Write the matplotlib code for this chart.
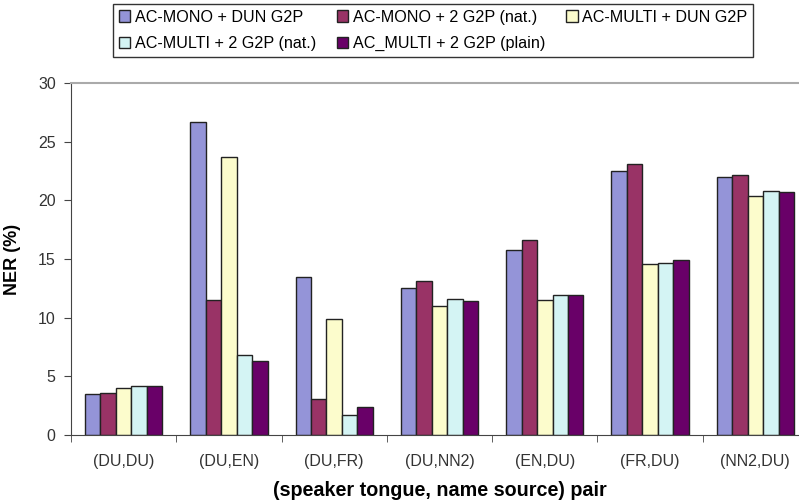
import numpy as np
import matplotlib.pyplot as plt

plt.rcParams['font.family'] = ['Liberation Sans', 'DejaVu Sans']

pairs = ['(DU,DU)', '(DU,EN)', '(DU,FR)', '(DU,NN2)', '(EN,DU)', '(FR,DU)', '(NN2,DU)']
series = ['AC-MONO + DUN G2P', 'AC-MONO + 2 G2P (nat.)', 'AC-MULTI + DUN G2P',
          'AC-MULTI + 2 G2P (nat.)', 'AC_MULTI + 2 G2P (plain)']
mono_dun = [3.5, 26.7, 13.5, 12.5, 15.8, 22.5, 22.0]
mono_2nat = [3.6, 11.5, 3.1, 13.1, 16.6, 23.1, 22.2]
multi_dun = [4.0, 23.7, 9.9, 11.0, 11.5, 14.6, 20.4]
multi_2nat = [4.2, 6.8, 1.7, 11.6, 11.9, 14.7, 20.8]
multi_2plain = [4.2, 6.3, 2.4, 11.4, 11.9, 14.9, 20.7]
colors = ['#9494d8', '#993366', '#fcfccc', '#d4f4f4', '#690068']

fig = plt.figure(figsize=(7.99, 5.01), dpi=100)
ax = fig.add_axes([71 / 799, 1 - 435 / 501, (808 - 71) / 799, (435 - 83) / 501])

x = np.arange(len(pairs))
w = 0.147
bars = []
for i, vals in enumerate([mono_dun, mono_2nat, multi_dun, multi_2nat, multi_2plain]):
    b = ax.bar(x + (i - 2) * w, vals, w, color=colors[i], edgecolor='#222222',
               linewidth=1.0, label=series[i])
    bars.append(b)

ax.set_xlim(-0.5, len(pairs) - 0.5)
ax.set_ylim(0, 30)
ax.set_yticks(range(0, 31, 5))
ax.set_xticks(x)
ax.set_xticklabels(pairs)
ax.set_xticks(np.arange(len(pairs) + 1) - 0.5, minor=True)
ax.tick_params(axis='x', which='major', length=0, pad=14, labelsize=11.5, colors='#333333')
ax.tick_params(axis='x', which='minor', length=5, color='#444444')
ax.tick_params(axis='y', length=5, labelsize=11.5, colors='#333333', pad=6)
ax.tick_params(axis='y', color='#444444')

for s in ['left', 'bottom']:
    ax.spines[s].set_color('#444444')
ax.spines['right'].set_visible(False)
ax.spines['top'].set_color('#aaaaaa')
ax.spines['top'].set_linewidth(1.5)

ax.set_ylabel('NER (%)', fontsize=13, fontweight='bold', labelpad=12)
ax.set_xlabel('(speaker tongue, name source) pair', fontsize=14.2, fontweight='bold', labelpad=8)

# row-major order for a 3-column legend
order = [0, 3, 1, 4, 2]
leg = fig.legend([bars[i] for i in order], [series[i] for i in order], ncol=3,
                 loc='upper left', bbox_to_anchor=(113 / 799, 1 - 4 / 501),
                 borderaxespad=0, frameon=True, fancybox=False, edgecolor='black',
                 fontsize=11.6, handlelength=0.7, handleheight=0.7, handletextpad=0.3,
                 columnspacing=1.3, borderpad=0.35, labelspacing=0.7)
leg.get_frame().set_linewidth(1.0)

fig.savefig('out.png', dpi=100)
